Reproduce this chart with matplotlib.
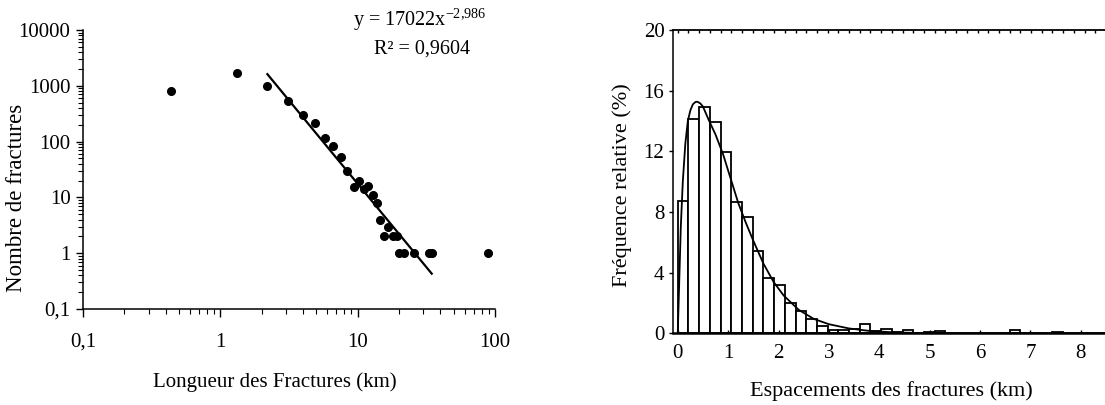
import numpy as np
import matplotlib
matplotlib.use("Agg")
import matplotlib.pyplot as plt

plt.rcParams['font.family'] = ['Liberation Serif', 'DejaVu Serif']
plt.rcParams['mathtext.fontset'] = 'custom'
plt.rcParams['mathtext.rm'] = 'Liberation Serif'
plt.rcParams['mathtext.it'] = 'Liberation Serif:italic'

# Longueurs des fractures (km) / nombre de fractures
longueurs = [0.44, 1.33, 2.2, 3.1, 4.0, 4.9, 5.8, 6.65, 7.5, 8.4, 9.4, 10.2, 11.1,
             11.9, 12.9, 13.8, 14.6, 15.6, 16.6, 18.2, 19.3, 19.9, 21.9, 25.5,
             33.1, 34.6, 88.7]
nombres = [820, 1660, 1000, 535, 300, 211, 117, 84, 53, 30, 15.5, 20, 14,
           16, 11, 8, 4, 2, 3, 2, 2, 1, 1, 1, 1, 1, 1]
# droite de régression y = 17022x^-2,986 (extrémités lues)
reg_x = [2.2, 34.6]
reg_y = [1616, 0.43]

# Histogramme des espacements (classes de 0,2125 km)
largeur_classe = 0.2125
frequences = [8.7, 14.15, 14.9, 13.9, 11.95, 8.66, 7.7, 5.4, 3.65, 3.2,
              2.0, 1.47, 0.94, 0.5, 0.24, 0.24, 0.3, 0.6, 0.15, 0.28,
              0.1, 0.2, 0.05, 0.07, 0.12, 0, 0, 0, 0, 0,
              0, 0.2, 0, 0, 0, 0.1, 0, 0, 0, 0]
# courbe d'ajustement (points lus)
courbe_x = [0.0, 0.03, 0.06, 0.1, 0.15, 0.2, 0.25, 0.3, 0.35, 0.39, 0.45, 0.5,
            0.61, 0.75, 0.9, 1.05, 1.2, 1.35, 1.5, 1.7, 1.9, 2.1, 2.4, 2.7,
            3.0, 3.4, 3.8, 4.3, 4.8, 5.3]
courbe_y = [0.0, 3.5, 7.0, 10.0, 12.5, 14.0, 14.7, 15.1, 15.25, 15.27, 15.15, 14.95,
            14.1, 13.1, 11.8, 10.2, 8.6, 7.3, 6.1, 4.6, 3.4, 2.5, 1.55, 0.95,
            0.6, 0.32, 0.16, 0.06, 0.02, 0.0]

fig = plt.figure(figsize=(11.05, 4.05), dpi=100)

# ---- graphique de gauche ----
ax1 = fig.add_axes([0.0751, 0.237, 0.3729, 0.689])
ax1.set_xscale('log')
ax1.set_yscale('log')
ax1.plot(longueurs, nombres, 'o', color='black', markersize=5.5, clip_on=False)
ax1.plot(reg_x, reg_y, '-', color='black', linewidth=1.6)
ax1.set_xlim(0.1, 100)
ax1.set_ylim(0.1, 10000)
ax1.spines['top'].set_visible(False)
ax1.spines['right'].set_visible(False)
for s in ['left', 'bottom']:
    ax1.spines[s].set_linewidth(1.1)
ax1.set_xticks([0.1, 1, 10, 100])
ax1.set_xticklabels(['0,1', '1', '10', '100'])
ax1.set_yticks([0.1, 1, 10, 100, 1000, 10000])
ax1.set_yticklabels(['0,1', '1', '10', '100', '1000', '10000'])
ax1.tick_params(axis='x', which='major', direction='out', length=6, width=1, labelsize=15, pad=11)
ax1.tick_params(axis='y', which='major', direction='out', length=5, width=1, labelsize=15, pad=4)
ax1.tick_params(which='minor', direction='out', length=3.5, width=0.8)
ax1.set_xlabel('Longueur des Fractures (km)', fontsize=15)
ax1.set_ylabel('Nombre de fractures', fontsize=16.5)
ax1.xaxis.set_label_coords(0.466, -0.226)
ax1.yaxis.set_label_coords(-0.136, 0.40)
fig.text(0.380, 0.950, r'y = 17022x$^{\mathrm{-2{,}986}}$', ha='center', va='center', fontsize=14.5)
fig.text(0.382, 0.880, 'R² = 0,9604', ha='center', va='center', fontsize=14.5)

# ---- graphique de droite ----
ax2 = fig.add_axes([0.6088, 0.177, 0.3912, 0.749])
bords = np.arange(len(frequences)) * largeur_classe
ax2.bar(bords, frequences, width=largeur_classe, align='edge',
        facecolor='white', edgecolor='black', linewidth=1.3)
ax2.plot(courbe_x, courbe_y, '-', color='black', linewidth=1.3)
ax2.set_xlim(-0.1, 8.48)
ax2.set_ylim(0, 20)
ax2.spines['right'].set_visible(False)
ax2.spines['left'].set_linewidth(1.1)
ax2.spines['top'].set_linewidth(1.3)
ax2.spines['bottom'].set_linewidth(1.8)
ax2.set_xticks(range(0, 9))
ax2.set_yticks([0, 4, 8, 12, 16, 20])
ax2.tick_params(axis='x', direction='in', length=2.5, width=1, labelsize=15, pad=8)
ax2.tick_params(axis='y', direction='out', length=3, width=1, labelsize=15, pad=3)
haut = ax2.secondary_xaxis('top')
haut.set_xticks(np.arange(41) * largeur_classe)
haut.tick_params(direction='in', length=2.5, width=1, labeltop=False)
haut.spines['top'].set_visible(False)
ax2.set_xlabel('Espacements des fractures (km)', fontsize=16)
ax2.set_ylabel('Fréquence relative (%)', fontsize=16)
ax2.xaxis.set_label_coords(0.505, -0.157)
ax2.yaxis.set_label_coords(-0.094, 0.49)

fig.savefig('out.png', dpi=100)
